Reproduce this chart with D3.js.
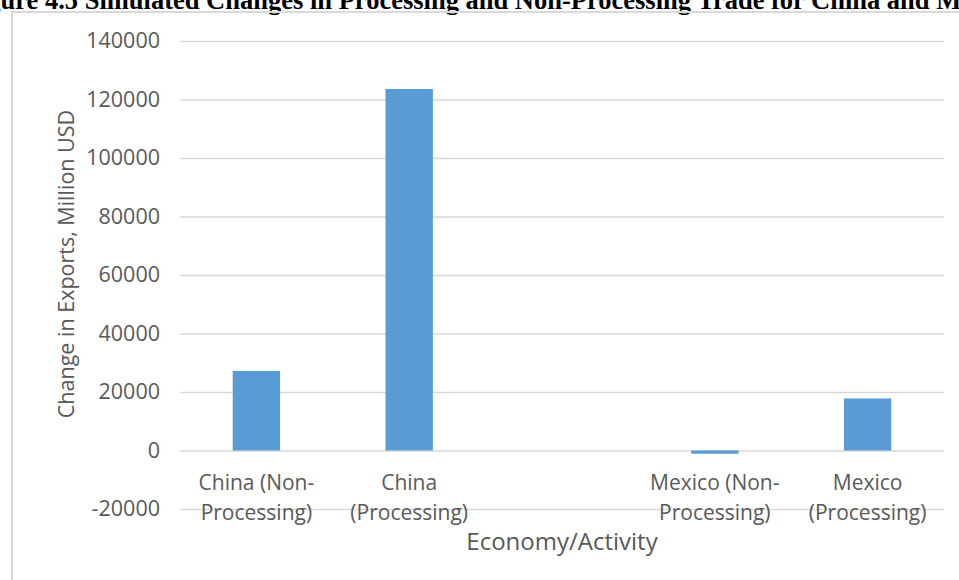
<!DOCTYPE html>
<html>
<head>
<meta charset="utf-8">
<script src="https://cdn.jsdelivr.net/npm/d3@7"></script>
<style>
  body { margin: 0; background: #fff; }
  svg { display: block; }
</style>
</head>
<body>
<div id="chart"></div>
<script>
// categories (third slot is left empty in the original chart)
let categories = ["China (Non-Processing)", "China (Processing)", "", "Mexico (Non-Processing)", "Mexico (Processing)"]
let tickLines = [["China (Non-", "Processing)"], ["China", "(Processing)"], ["", ""], ["Mexico (Non-", "Processing)"], ["Mexico", "(Processing)"]]
let exportChange = [27200, 123600, null, -1100, 17800]
let yTicks = [-20000, 0, 20000, 40000, 60000, 80000, 100000, 120000, 140000]
let titleText = "Figure 4.5 Simulated Changes in Processing and Non-Processing Trade for China and Mexico"

let width = 959, height = 580
let plot = { left: 180, right: 944, top: 41, bottom: 509 }

let svg = d3.select("#chart")
    .append("svg")
    .attr("width", width)
    .attr("height", height)

// title, cut off on both sides like the source image
let title = svg.append("text")
    .attr("y", 8.5)
    .style("font-family", "'Liberation Serif', 'Times New Roman', serif")
    .style("font-weight", "bold")
    .style("font-size", "25px")
    .style("fill", "#000")
    .text(titleText)
let mIdx = titleText.lastIndexOf("Mexico")
let visibleW = title.node().getSubStringLength(3, mIdx - 3)
let fs = 25 * 936 / visibleW
title.style("font-size", fs + "px")
let cut = title.node().getSubStringLength(0, 3)
title.attr("x", -cut + 0.5)

// chart frame
svg.append("rect")
    .attr("x", 12)
    .attr("y", 12)
    .attr("width", width + 20)
    .attr("height", height + 20)
    .style("fill", "none")
    .style("stroke", "#d9d9d9")
    .style("stroke-width", 2)

let x = d3.scaleBand()
    .domain(categories)
    .range([plot.left, plot.right])
    .paddingInner(0.69)
    .paddingOuter(0.345)

let y = d3.scaleLinear()
    .domain([-20000, 140000])
    .range([plot.bottom, plot.top])

// gridlines + y labels
let yAxis = svg.append("g")
    .attr("transform", "translate(" + plot.left + ",0)")
    .call(d3.axisLeft(y).tickValues(yTicks).tickSize(-(plot.right - plot.left)).tickPadding(20).tickFormat(d => String(d)))
yAxis.select(".domain").remove()
yAxis.selectAll("line").style("stroke", "#d9d9d9").style("stroke-width", 1.3)
yAxis.selectAll("text")
    .style("font-family", "'Open Sans', sans-serif")
    .style("font-size", "21.5px")
    .style("fill", "#595959")

// bars
svg.selectAll("rect.bar")
    .data(categories.map((c, i) => ({ name: c, value: exportChange[i] })).filter(d => d.value !== null))
    .enter()
    .append("rect")
    .attr("class", "bar")
    .attr("x", d => x(d.name))
    .attr("width", x.bandwidth())
    .attr("y", d => y(Math.max(0, d.value)))
    .attr("height", d => Math.abs(y(d.value) - y(0)))
    .style("fill", "#5b9bd5")

// category labels (two lines each)
let xLabels = svg.append("g")
    .selectAll("text")
    .data(categories)
    .enter()
    .append("text")
    .attr("text-anchor", "middle")
    .attr("transform", d => "translate(" + (x(d) + x.bandwidth() / 2) + ",490)")
    .style("font-family", "'Open Sans', sans-serif")
    .style("font-size", "21px")
    .style("fill", "#595959")
xLabels.append("tspan").attr("x", 0).attr("dy", 0).text((d, i) => tickLines[i][0])
xLabels.append("tspan").attr("x", 0).attr("dy", 30).text((d, i) => tickLines[i][1])

// axis titles
svg.append("text")
    .attr("x", (plot.left + plot.right) / 2)
    .attr("y", 550)
    .attr("text-anchor", "middle")
    .style("font-family", "'Open Sans', sans-serif")
    .style("font-size", "24px")
    .style("fill", "#595959")
    .text("Economy/Activity")

svg.append("text")
    .attr("transform", "translate(74,264) rotate(-90)")
    .attr("text-anchor", "middle")
    .style("font-family", "'Open Sans', sans-serif")
    .style("font-size", "21.5px")
    .style("fill", "#595959")
    .text("Change in Exports, Million USD")
</script>
</body>
</html>
